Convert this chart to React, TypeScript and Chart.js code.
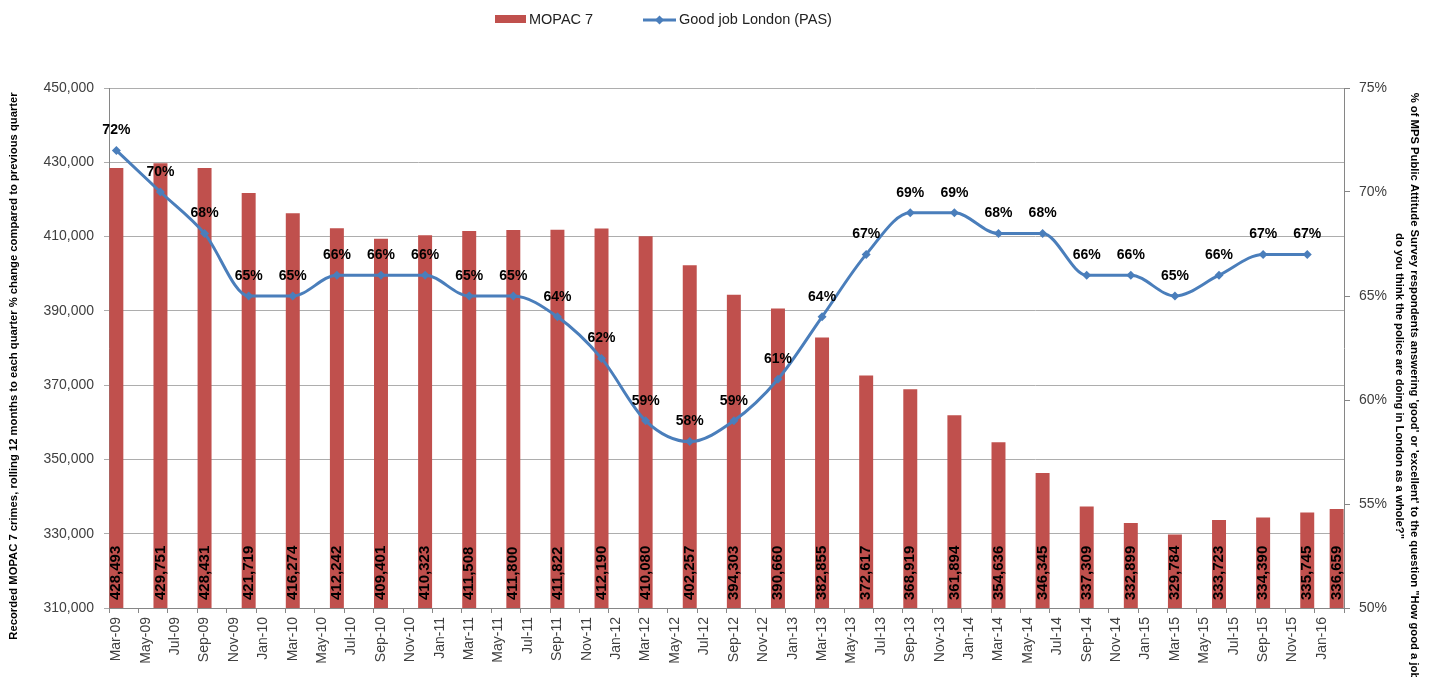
import React, { useEffect, useRef } from 'react';
import { Chart, registerables } from 'chart.js';

Chart.register(...registerables);

// Monthly category slots of the date axis
const months = [
  'Mar-09', 'Apr-09', 'May-09', 'Jun-09', 'Jul-09', 'Aug-09', 'Sep-09', 'Oct-09', 'Nov-09', 'Dec-09',
  'Jan-10', 'Feb-10', 'Mar-10', 'Apr-10', 'May-10', 'Jun-10', 'Jul-10', 'Aug-10', 'Sep-10', 'Oct-10', 'Nov-10', 'Dec-10',
  'Jan-11', 'Feb-11', 'Mar-11', 'Apr-11', 'May-11', 'Jun-11', 'Jul-11', 'Aug-11', 'Sep-11', 'Oct-11', 'Nov-11', 'Dec-11',
  'Jan-12', 'Feb-12', 'Mar-12', 'Apr-12', 'May-12', 'Jun-12', 'Jul-12', 'Aug-12', 'Sep-12', 'Oct-12', 'Nov-12', 'Dec-12',
  'Jan-13', 'Feb-13', 'Mar-13', 'Apr-13', 'May-13', 'Jun-13', 'Jul-13', 'Aug-13', 'Sep-13', 'Oct-13', 'Nov-13', 'Dec-13',
  'Jan-14', 'Feb-14', 'Mar-14', 'Apr-14', 'May-14', 'Jun-14', 'Jul-14', 'Aug-14', 'Sep-14', 'Oct-14', 'Nov-14', 'Dec-14',
  'Jan-15', 'Feb-15', 'Mar-15', 'Apr-15', 'May-15', 'Jun-15', 'Jul-15', 'Aug-15', 'Sep-15', 'Oct-15', 'Nov-15', 'Dec-15',
  'Jan-16', 'Feb-16',
];

// Tick labels shown on the axis (every second month)
const tickLabels = [
  'Mar-09', 'May-09', 'Jul-09', 'Sep-09', 'Nov-09',
  'Jan-10', 'Mar-10', 'May-10', 'Jul-10', 'Sep-10', 'Nov-10',
  'Jan-11', 'Mar-11', 'May-11', 'Jul-11', 'Sep-11', 'Nov-11',
  'Jan-12', 'Mar-12', 'May-12', 'Jul-12', 'Sep-12', 'Nov-12',
  'Jan-13', 'Mar-13', 'May-13', 'Jul-13', 'Sep-13', 'Nov-13',
  'Jan-14', 'Mar-14', 'May-14', 'Jul-14', 'Sep-14', 'Nov-14',
  'Jan-15', 'Mar-15', 'May-15', 'Jul-15', 'Sep-15', 'Nov-15',
  'Jan-16',
];

// MOPAC 7 crimes (bars)
const mopacMonths = [
  'Mar-09', 'Jun-09', 'Sep-09', 'Dec-09',
  'Mar-10', 'Jun-10', 'Sep-10', 'Dec-10',
  'Mar-11', 'Jun-11', 'Sep-11', 'Dec-11',
  'Mar-12', 'Jun-12', 'Sep-12', 'Dec-12',
  'Mar-13', 'Jun-13', 'Sep-13', 'Dec-13',
  'Mar-14', 'Jun-14', 'Sep-14', 'Dec-14',
  'Mar-15', 'Jun-15', 'Sep-15', 'Dec-15',
  'Feb-16',
];
const mopac7 = [
  428493, 429751, 428431, 421719,
  416274, 412242, 409401, 410323,
  411508, 411800, 411822, 412190,
  410080, 402257, 394303, 390660,
  382855, 372617, 368919, 361894,
  354636, 346345, 337309, 332899,
  329784, 333723, 334390, 335745,
  336659,
];

// Good job London (PAS), percent (line)
const pasMonths = [
  'Mar-09', 'Jun-09', 'Sep-09', 'Dec-09',
  'Mar-10', 'Jun-10', 'Sep-10', 'Dec-10',
  'Mar-11', 'Jun-11', 'Sep-11', 'Dec-11',
  'Mar-12', 'Jun-12', 'Sep-12', 'Dec-12',
  'Mar-13', 'Jun-13', 'Sep-13', 'Dec-13',
  'Mar-14', 'Jun-14', 'Sep-14', 'Dec-14',
  'Mar-15', 'Jun-15', 'Sep-15', 'Dec-15',
];
const goodJobLondon = [
  72, 70, 68, 65,
  65, 66, 66, 66,
  65, 65, 64, 62,
  59, 58, 59, 61,
  64, 67, 69, 69,
  68, 68, 66, 66,
  65, 66, 67, 67,
];

const leftTicks = [310000, 330000, 350000, 370000, 390000, 410000, 430000, 450000];
const rightTicks = [50, 55, 60, 65, 70, 75];

const BAR_COLOR = '#C0504D';
const LINE_COLOR = '#4A7EBB';
const FONT = '"Liberation Sans", Arial, sans-serif';
const AXIS_GREY = '#868686';
const GRID_GREY = '#ADADAD';
const TEXT_GREY = '#404040';

const leftTitle =
  'Recorded MOPAC 7 crimes, rolling 12 months to each quarter % change compared to previous quarter';
const rightTitle = [
  '% of MPS Public Attitude Survey respondents answering \'good\' or \'excellent\' to the question "How good a job',
  'do you think the police are doing in London as a whole?"',
];

const valueLabels = {
  id: 'valueLabels',
  afterDatasetsDraw(chart: any) {
    const ctx = chart.ctx;
    const area = chart.chartArea;
    ctx.save();
    ctx.fillStyle = '#000';
    // bar labels
    ctx.font = `bold 15px ${FONT}`;
    ctx.textAlign = 'left';
    ctx.textBaseline = 'middle';
    const barMeta = chart.getDatasetMeta(0);
    const barData = chart.data.datasets[0].data;
    barMeta.data.forEach((el: any, i: number) => {
      ctx.save();
      ctx.translate(el.x, area.bottom - 8);
      ctx.rotate(-Math.PI / 2);
      ctx.fillText(Number(barData[i].y).toLocaleString('en-US'), 0, 0);
      ctx.restore();
    });
    // line labels
    ctx.font = `bold 14px ${FONT}`;
    ctx.textAlign = 'center';
    const lineMeta = chart.getDatasetMeta(1);
    const lineData = chart.data.datasets[1].data;
    lineMeta.data.forEach((el: any, i: number) => {
      ctx.fillText(`${lineData[i].y}%`, el.x, el.y - 20);
    });
    ctx.restore();
  },
};

const decorations = {
  id: 'decorations',
  afterDraw(chart: any) {
    const ctx = chart.ctx;
    ctx.save();
    // Legend
    ctx.font = `14.5px ${FONT}`;
    ctx.textBaseline = 'middle';
    ctx.textAlign = 'left';
    ctx.fillStyle = BAR_COLOR;
    ctx.fillRect(495, 15, 31, 8);
    ctx.fillStyle = '#222';
    ctx.fillText(chart.data.datasets[0].label, 529, 20);
    ctx.strokeStyle = LINE_COLOR;
    ctx.lineWidth = 3;
    ctx.beginPath();
    ctx.moveTo(643, 20);
    ctx.lineTo(676, 20);
    ctx.stroke();
    ctx.fillStyle = LINE_COLOR;
    ctx.beginPath();
    ctx.moveTo(659.5, 15.5);
    ctx.lineTo(664, 20);
    ctx.lineTo(659.5, 24.5);
    ctx.lineTo(655, 20);
    ctx.closePath();
    ctx.fill();
    ctx.fillStyle = '#222';
    ctx.fillText(chart.data.datasets[1].label, 679, 20);

    // Axis titles
    ctx.fillStyle = '#000';
    ctx.textAlign = 'center';
    ctx.textBaseline = 'middle';
    ctx.font = `bold 11.25px ${FONT}`;
    ctx.save();
    ctx.translate(14, 366);
    ctx.rotate(-Math.PI / 2);
    ctx.fillText(leftTitle, 0, 0);
    ctx.restore();

    ctx.save();
    ctx.translate(1414, 386);
    ctx.rotate(Math.PI / 2);
    ctx.fillText(rightTitle[0], 0, 0);
    ctx.fillText(rightTitle[1], 0, 14.5);
    ctx.restore();
    ctx.restore();
  },
};

export default function App() {
  const canvasRef = useRef<HTMLCanvasElement | null>(null);

  useEffect(() => {
    document.body.style.margin = '0';
    document.body.style.overflow = 'hidden';
    const canvas = canvasRef.current;
    if (!canvas) return;
    const chart = new Chart(canvas, {
      type: 'bar',
      data: {
        labels: months,
        datasets: [
          {
            type: 'bar',
            label: 'MOPAC 7',
            data: mopacMonths.map((m, i) => ({ x: m, y: mopac7[i] })),
            backgroundColor: BAR_COLOR,
            borderWidth: 0,
            barPercentage: 0.95,
            categoryPercentage: 1,
            yAxisID: 'y',
            order: 1,
          },
          {
            type: 'line',
            label: 'Good job London (PAS)',
            data: pasMonths.map((m, i) => ({ x: m, y: goodJobLondon[i] })),
            borderColor: LINE_COLOR,
            backgroundColor: LINE_COLOR,
            borderWidth: 3,
            pointStyle: 'rectRot',
            pointRadius: 4.5,
            pointBorderWidth: 0,
            cubicInterpolationMode: 'monotone',
            yAxisID: 'y1',
            order: 0,
          },
        ] as any,
      },
      options: {
        animation: false,
        responsive: true,
        maintainAspectRatio: false,
        layout: { padding: { top: 88, left: 0, right: 0, bottom: 0 } },
        plugins: {
          legend: { display: false },
          tooltip: { enabled: false },
          title: { display: false },
        },
        scales: {
          x: {
            type: 'category',
            offset: true,
            grid: {
              offset: true,
              drawOnChartArea: false,
              tickLength: 5,
              color: (c: any) =>
                c.index === undefined || c.index % 2 === 0 ? AXIS_GREY : 'rgba(0,0,0,0)',
            },
            border: { color: AXIS_GREY, width: 1 },
            ticks: {
              autoSkip: false,
              minRotation: 90,
              maxRotation: 90,
              padding: 4,
              color: TEXT_GREY,
              font: { family: FONT, size: 14 },
              callback: (_v: any, i: number) =>
                tickLabels.includes(months[i]) ? months[i] : '',
            },
            afterFit: (s: any) => {
              s.height = 69;
            },
          },
          y: {
            type: 'linear',
            position: 'left',
            min: leftTicks[0],
            max: leftTicks[leftTicks.length - 1],
            afterBuildTicks: (s: any) => {
              s.ticks = leftTicks.map((v) => ({ value: v }));
            },
            grid: { color: GRID_GREY, tickLength: 5, lineWidth: 1 },
            border: { color: AXIS_GREY },
            ticks: {
              padding: 10,
              color: TEXT_GREY,
              font: { family: FONT, size: 14 },
              callback: (v: any) => Number(v).toLocaleString('en-US'),
            },
            afterFit: (s: any) => {
              s.width = 109;
            },
          },
          y1: {
            type: 'linear',
            position: 'right',
            min: rightTicks[0],
            max: rightTicks[rightTicks.length - 1],
            afterBuildTicks: (s: any) => {
              s.ticks = rightTicks.map((v) => ({ value: v }));
            },
            grid: { drawOnChartArea: false, color: AXIS_GREY, tickLength: 6 },
            border: { color: AXIS_GREY },
            ticks: {
              padding: 9,
              color: TEXT_GREY,
              font: { family: FONT, size: 14 },
              callback: (v: any) => `${v}%`,
            },
            afterFit: (s: any) => {
              s.width = 94;
            },
          },
        },
      } as any,
      plugins: [valueLabels, decorations],
    });
    return () => chart.destroy();
  }, []);

  return (
    <div style={{ width: '1438px', height: '677px', position: 'relative' }}>
      <canvas ref={canvasRef} />
    </div>
  );
}
